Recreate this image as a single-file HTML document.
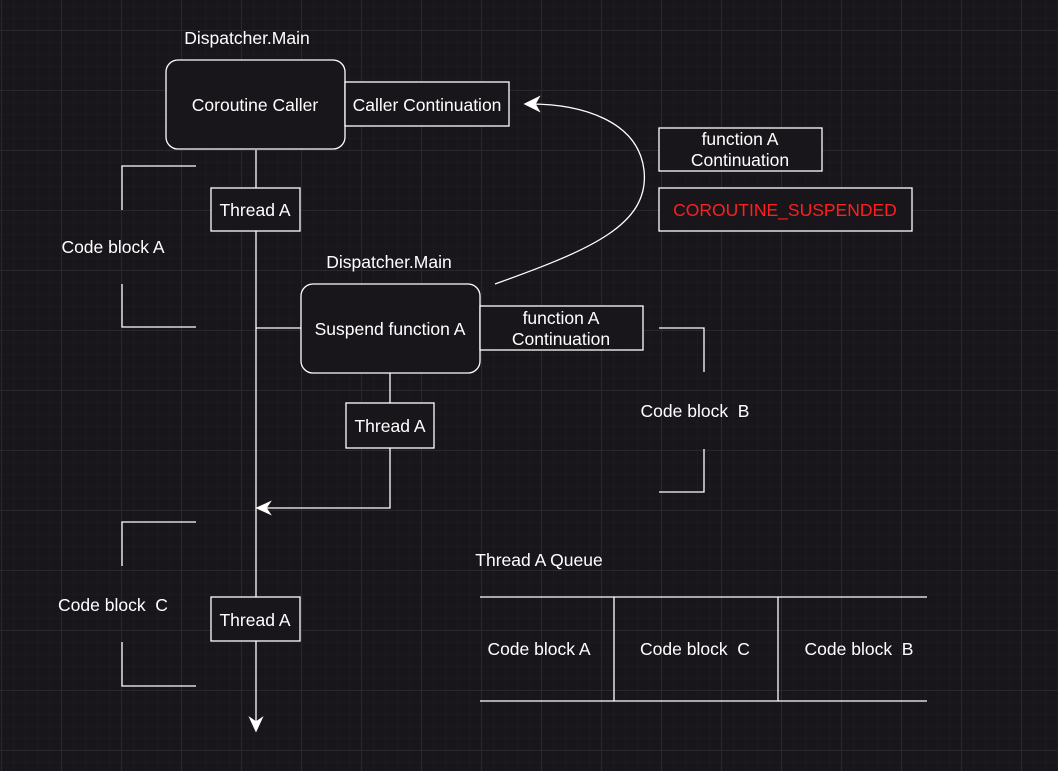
<!DOCTYPE html>
<html><head><meta charset="utf-8"><style>
html,body{margin:0;padding:0;background:#18161b;}
svg{display:block;font-family:"Liberation Sans",Helvetica,Arial,sans-serif;}
text{fill:#fff;font-size:17.5px;text-anchor:middle;dominant-baseline:central;}
</style></head><body>
<svg width="1058" height="771" viewBox="0 0 1058 771" xmlns="http://www.w3.org/2000/svg">
<defs>
<pattern id="minor" x="1" y="6" width="12" height="12" patternUnits="userSpaceOnUse">
<path d="M0 0H12M0 0V12" stroke="#201e24" stroke-width="1" fill="none"/>
</pattern>
<pattern id="major" x="1" y="30" width="60" height="60" patternUnits="userSpaceOnUse">
<path d="M0 0.5H60M0.5 0V60" stroke="#2a282e" stroke-width="1" fill="none"/>
</pattern>
</defs>
<rect width="1058" height="771" fill="#18161b"/>
<rect width="1058" height="771" fill="url(#minor)"/>
<rect width="1058" height="771" fill="url(#major)"/>

<g stroke="#fff" stroke-width="1.3" fill="none">
<line x1="256" y1="150" x2="256" y2="724"/>
<path d="M250 718 L256 731 L262 718 L256 722 Z" fill="#fff"/>
<line x1="256" y1="328" x2="301" y2="328"/>
<polyline points="390,448 390,508 262,508"/>
<path d="M257 508 L270 502 L266 508 L270 514 Z" fill="#fff"/>
<line x1="390" y1="373" x2="390" y2="403"/>
<polyline points="196,166 122,166 122,210"/>
<polyline points="122,284 122,327 196,327"/>
<polyline points="196,522 122,522 122,566"/>
<polyline points="122,642 122,686 196,686"/>
<polyline points="659,328 704,328 704,372"/>
<polyline points="704,449 704,492 659,492"/>
<path d="M495 284 C590 250 650 225 644 170 C638 120 580 104 530 104"/>
<path d="M525 104 L539 97 L535 104 L539 111 Z" fill="#fff"/>
<line x1="480" y1="597" x2="927" y2="597"/>
<line x1="480" y1="701" x2="927" y2="701"/>
<line x1="614" y1="597" x2="614" y2="701"/>
<line x1="778" y1="597" x2="778" y2="701"/>
</g>

<g stroke="#fff" stroke-width="1.3" fill="#18161b">
<rect x="166" y="60" width="179" height="89" rx="12"/>
<rect x="345" y="82" width="164" height="44"/>
<rect x="211" y="188" width="89" height="43"/>
<rect x="301" y="284" width="179" height="89" rx="12"/>
<rect x="480" y="306" width="163" height="44"/>
<rect x="346" y="403" width="88" height="45"/>
<rect x="211" y="597" width="89" height="44"/>
<rect x="659" y="128" width="163" height="43"/>
<rect x="659" y="188" width="253" height="43"/>
</g>

<text x="247" y="38">Dispatcher.Main</text>
<text x="255" y="105">Coroutine Caller</text>
<text x="427" y="105">Caller Continuation</text>
<text x="255" y="210">Thread A</text>
<text x="113" y="247">Code block A</text>
<text x="389" y="262">Dispatcher.Main</text>
<text x="390" y="329">Suspend function A</text>
<text x="561" y="318">function A</text>
<text x="561" y="339">Continuation</text>
<text x="390" y="426">Thread A</text>
<text x="740" y="139">function A</text>
<text x="740" y="160">Continuation</text>
<text x="785" y="210" style="fill:#ff1f1f">COROUTINE_SUSPENDED</text>
<text x="695" y="411">Code block&#160; B</text>
<text x="539" y="560">Thread A Queue</text>
<text x="113" y="605">Code block&#160; C</text>
<text x="255" y="620">Thread A</text>
<text x="539" y="649">Code block A</text>
<text x="695" y="649">Code block&#160; C</text>
<text x="859" y="649">Code block&#160; B</text>
</svg>
</body></html>
